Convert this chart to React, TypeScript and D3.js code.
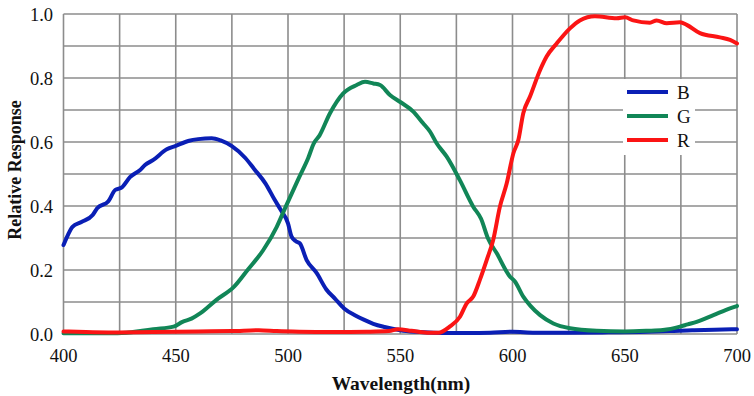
import React from "react";
import * as d3 from "d3";

const blueWl = [400, 402, 404, 408, 413, 415, 420, 423, 426, 429.6, 434, 436.3, 440, 446, 450, 456, 460, 466, 470, 475, 481, 485, 490, 494, 497, 500, 501.6, 503.5, 505.3, 508.3, 512.8, 517, 521, 525, 530, 534, 538, 543, 550, 557, 565, 572, 580, 590, 600, 610, 620, 640, 660, 670, 680, 690, 700];
const blueVal = [0.278, 0.31, 0.335, 0.35, 0.372, 0.393, 0.415, 0.45, 0.458, 0.49, 0.512, 0.528, 0.544, 0.577, 0.588, 0.604, 0.609, 0.612, 0.605, 0.587, 0.55, 0.515, 0.47, 0.42, 0.385, 0.346, 0.304, 0.29, 0.283, 0.231, 0.19, 0.14, 0.11, 0.08, 0.058, 0.044, 0.032, 0.022, 0.012, 0.007, 0.004, 0.003, 0.003, 0.004, 0.007, 0.004, 0.004, 0.005, 0.007, 0.009, 0.012, 0.013, 0.015];

const greenWl = [400, 420, 428, 435, 440, 449, 453, 457, 461, 468, 476, 482, 489, 495, 499, 505, 509, 511.5, 514, 518.7, 524.6, 530.6, 534.3, 538, 541, 545.4, 550, 555.8, 560, 563.3, 566.2, 570.7, 576.6, 582.5, 586, 589, 593, 598.9, 601, 604.8, 608, 612.3, 618.2, 625.6, 637.5, 650, 660, 667, 674.6, 678, 682, 689.5, 696.9, 700];
const greenVal = [0.002, 0.002, 0.004, 0.01, 0.015, 0.023, 0.038, 0.048, 0.065, 0.106, 0.148, 0.2, 0.2625, 0.335, 0.398, 0.49, 0.55, 0.596, 0.62, 0.69, 0.752, 0.778, 0.788, 0.783, 0.778, 0.747, 0.725, 0.695, 0.66, 0.632, 0.596, 0.554, 0.48, 0.398, 0.36, 0.3, 0.252, 0.179, 0.165, 0.117, 0.088, 0.059, 0.033, 0.018, 0.01, 0.008, 0.01, 0.0125, 0.023, 0.03, 0.038, 0.059, 0.08, 0.0875];

const redWl = [400, 410, 420, 440, 460, 475, 487, 495, 505, 520, 535, 545, 549, 555, 562, 567, 572, 576.6, 579.6, 582.5, 585.5, 588.5, 591.4, 594.4, 597.4, 600.4, 602.6, 604.8, 607.8, 612.3, 615.2, 619.7, 625.6, 630, 636.7, 646.4, 650.1, 653.8, 661.2, 664.2, 668.7, 674.6, 677.6, 683.5, 692.4, 696.9, 700];
const redVal = [0.008, 0.006, 0.005, 0.006, 0.008, 0.009, 0.012, 0.009, 0.007, 0.006, 0.007, 0.009, 0.015, 0.01, 0.004, 0.004, 0.023, 0.054, 0.096, 0.117, 0.17, 0.231, 0.294, 0.398, 0.47, 0.565, 0.606, 0.69, 0.742, 0.825, 0.867, 0.908, 0.955, 0.98, 0.993, 0.987, 0.99, 0.98, 0.973, 0.98, 0.971, 0.974, 0.966, 0.94, 0.927, 0.919, 0.908];

const xTicks = [400, 450, 500, 550, 600, 650, 700];
const yTicks = [0, 0.2, 0.4, 0.6, 0.8, 1.0];
const seriesNames = ["B", "G", "R"];
const seriesColors = ["#0a1fb5", "#118657", "#fb1414"];

export default function App() {
  const W = 754, H = 396;
  const left = 63.5, right = 737, top = 14, bottom = 334;
  const x = d3.scaleLinear().domain([400, 700]).range([left, right]);
  const y = d3.scaleLinear().domain([0, 1]).range([bottom, top]);
  const xGrid = d3.range(400, 701, 25);
  const yGrid = d3.range(0, 11).map((i) => i / 10);
  const series = [
    blueWl.map((w, i) => [w, blueVal[i]]),
    greenWl.map((w, i) => [w, greenVal[i]]),
    redWl.map((w, i) => [w, redVal[i]]),
  ];
  const line = d3
    .line<number[]>()
    .x((d) => x(d[0]))
    .y((d) => y(d[1]))
    .curve(d3.curveMonotoneX);
  const font = "Liberation Serif, DejaVu Serif, serif";
  const gridColor = "#8c8c8c";
  return (
    <div style={{ position: "absolute", left: 0, top: 0 }}>
      <svg width={W} height={H} style={{ display: "block", background: "#fff" }}>
        <rect x={0} y={0} width={W} height={H} fill="#fff" />
        {xGrid.map((g) => (
          <line key={"xg" + g} x1={x(g)} x2={x(g)} y1={top} y2={bottom} stroke={gridColor} strokeWidth={1.6} />
        ))}
        {yGrid.map((g) => (
          <line key={"yg" + g} x1={left} x2={right} y1={y(g)} y2={y(g)} stroke={gridColor} strokeWidth={1.6} />
        ))}
        <rect x={623} y={79} width={72} height={76} fill="#fff" />
        {series.map((s, i) => (
          <path key={seriesNames[i]} d={line(s as any) || ""} fill="none" stroke={seriesColors[i]} strokeWidth={4} strokeLinejoin="round" strokeLinecap="round" />
        ))}
        {seriesNames.map((n, i) => (
          <g key={"lg" + n}>
            <line x1={627} x2={668} y1={92 + i * 24} y2={92 + i * 24} stroke={seriesColors[i]} strokeWidth={4} />
            <text x={677} y={92 + i * 24} dy="0.35em" style={{ fontFamily: font }} fontSize={19} fill="#111">{n}</text>
          </g>
        ))}
        {yTicks.map((t) => (
          <text key={"yt" + t} x={53} y={y(t)} dy="0.36em" textAnchor="end" style={{ fontFamily: font }} fontSize={18.5} fill="#111">
            {t.toFixed(1)}
          </text>
        ))}
        {xTicks.map((t) => (
          <text key={"xt" + t} x={x(t)} y={361.5} textAnchor="middle" style={{ fontFamily: font }} fontSize={18.5} fill="#111">
            {t}
          </text>
        ))}
        <text x={401} y={390} textAnchor="middle" style={{ fontFamily: font }} fontSize={19.5} fontWeight="bold" fill="#111">
          Wavelength(nm)
        </text>
        <text transform={`translate(21,170) rotate(-90)`} textAnchor="middle" style={{ fontFamily: font }} fontSize={18} fontWeight="bold" fill="#111">
          Relative Response
        </text>
      </svg>
    </div>
  );
}
